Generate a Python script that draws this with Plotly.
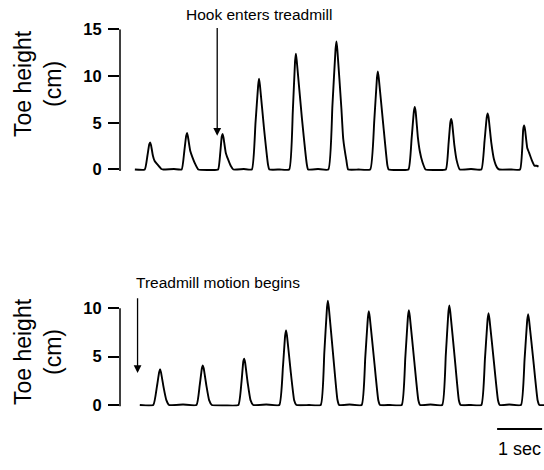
import plotly.graph_objects as go

# ---------------- data (time in seconds, toe height in cm) ----------------
top_time = [0.33,
            0.55, 0.61, 0.65, 0.67, 0.69, 0.73, 0.77, 0.84, 0.92, 0.96, 1.20,
            1.37, 1.43, 1.47, 1.49, 1.51, 1.56, 1.61, 1.67, 1.74, 2.00,
            2.18, 2.23, 2.26, 2.28, 2.30, 2.35, 2.40, 2.46, 2.52, 2.75,
            2.93, 3.01, 3.07, 3.09, 3.11, 3.20, 3.29, 3.32, 3.55,
            3.76, 3.84, 3.89, 3.91, 3.93, 4.04, 4.15, 4.18, 4.40,
            4.63, 4.72, 4.79, 4.81, 4.83, 4.92, 4.96, 5.03, 5.07, 5.30,
            5.56, 5.65, 5.71, 5.73, 5.75, 5.85, 5.94, 5.97, 6.20,
            6.41, 6.48, 6.53, 6.55, 6.57, 6.62, 6.66, 6.72, 6.79, 7.00,
            7.24, 7.30, 7.34, 7.36, 7.38, 7.43, 7.48, 7.55, 7.80,
            8.03, 8.10, 8.15, 8.17, 8.19, 8.25, 8.31, 8.38, 8.43, 8.70,
            8.89, 8.94, 8.96, 8.98, 9.00, 9.05, 9.09, 9.15, 9.21, 9.26, 9.30]
top_height = [0.0,
              0.0, 1.5, 2.7, 2.9, 2.6, 1.5, 0.9, 0.5, 0.05, 0.0, 0.05,
              0.0, 2.0, 3.6, 3.9, 3.5, 2.0, 1.3, 0.6, 0.0, -0.05,
              0.0, 1.9, 3.5, 3.8, 3.4, 1.8, 1.1, 0.4, 0.0, 0.05,
              0.0, 4.9, 9.0, 9.7, 9.0, 4.4, 0.5, 0.0, 0.0,
              0.0, 6.2, 11.6, 12.4, 11.5, 5.6, 0.6, 0.0, 0.05,
              0.0, 6.8, 12.9, 13.7, 12.8, 6.5, 3.3, 1.0, 0.0, 0.0,
              0.0, 5.2, 9.8, 10.5, 9.8, 4.8, 0.5, 0.0, -0.05,
              0.0, 3.3, 6.2, 6.7, 6.2, 3.4, 2.0, 0.8, 0.0, -0.05,
              0.0, 2.7, 5.0, 5.4, 5.0, 2.6, 1.0, 0.0, 0.05,
              0.0, 3.0, 5.6, 6.0, 5.6, 2.9, 1.1, 0.2, 0.0, 0.0,
              0.0, 2.4, 4.3, 4.7, 4.3, 2.3, 1.8, 1.0, 0.4, 0.4, 0.3]

bottom_time = [0.44,
               0.74, 0.82, 0.87, 0.89, 0.91, 0.97, 1.03, 1.09, 1.40,
               1.70, 1.77, 1.82, 1.84, 1.86, 1.92, 1.98, 2.04, 2.35,
               2.63, 2.70, 2.74, 2.76, 2.78, 2.84, 2.90, 2.96, 3.25,
               3.54, 3.62, 3.67, 3.69, 3.71, 3.79, 3.87, 3.92, 4.20,
               4.46, 4.54, 4.60, 4.62, 4.64, 4.74, 4.83, 4.87, 5.10,
               5.37, 5.45, 5.51, 5.53, 5.55, 5.65, 5.74, 5.78, 6.00,
               6.26, 6.34, 6.40, 6.42, 6.44, 6.54, 6.63, 6.67, 6.90,
               7.16, 7.24, 7.30, 7.32, 7.34, 7.44, 7.53, 7.57, 7.80,
               8.03, 8.11, 8.17, 8.19, 8.21, 8.31, 8.40, 8.44, 8.65,
               8.91, 8.99, 9.05, 9.07, 9.09, 9.19, 9.28, 9.32, 9.45]
bottom_height = [0.0,
                 0.0, 1.9, 3.4, 3.7, 3.4, 1.8, 0.5, 0.0, 0.05,
                 0.0, 2.0, 3.8, 4.1, 3.8, 2.0, 0.5, 0.0, -0.05,
                 0.0, 2.4, 4.5, 4.8, 4.4, 2.2, 0.5, 0.0, 0.05,
                 0.0, 3.9, 7.2, 7.7, 7.2, 3.6, 0.5, 0.0, 0.0,
                 0.0, 5.4, 10.1, 10.8, 10.1, 5.0, 0.6, 0.0, 0.05,
                 0.0, 4.9, 9.1, 9.7, 9.1, 4.5, 0.5, 0.0, 0.0,
                 0.0, 4.9, 9.2, 9.8, 9.2, 4.5, 0.5, 0.0, 0.05,
                 0.0, 5.2, 9.7, 10.3, 9.6, 4.8, 0.5, 0.0, 0.0,
                 0.0, 4.8, 8.9, 9.5, 8.9, 4.4, 0.5, 0.0, 0.05,
                 0.0, 4.7, 8.8, 9.4, 8.8, 4.4, 0.5, 0.0, 0.0]

top_ticks = [0, 5, 10, 15]
bottom_ticks = [0, 5, 10]
axis_title = "Toe height<br>(cm)"
top_event = "Hook enters treadmill"
bottom_event = "Treadmill motion begins"
hook_time, hook_tip, hook_tail = 2.16, 3.6, 15.3
motion_time, motion_tip, motion_tail = 0.39, 3.3, 11.2
scale_start, scale_len = 8.38, 1.0
scale_label = "1 sec"

FONT = "Liberation Sans, Arial, Helvetica, sans-serif"
X_DOMAIN = [0.2206, 1]

fig = go.Figure()
fig.add_trace(go.Scatter(x=top_time, y=top_height, mode="lines",
                         line=dict(color="black", width=1.9, shape="spline", smoothing=0.4),
                         xaxis="x", yaxis="y", hoverinfo="skip", showlegend=False))
fig.add_trace(go.Scatter(x=bottom_time, y=bottom_height, mode="lines",
                         line=dict(color="black", width=1.9, shape="spline", smoothing=0.4),
                         xaxis="x2", yaxis="y2", hoverinfo="skip", showlegend=False))

xrange = [0, 9.422]
yax_common = dict(ticks="outside", ticklen=11, tickwidth=1.5, tickcolor="black",
                  showline=False, showgrid=False, zeroline=False, automargin=False,
                  ticklabelstandoff=3,
                  tickfont=dict(family=FONT, size=16.5, color="black", weight="bold"))

fig.update_layout(
    width=544, height=470,
    margin=dict(l=0, r=0, t=0, b=0),
    paper_bgcolor="white", plot_bgcolor="white",
    showlegend=False,
    xaxis=dict(domain=X_DOMAIN, range=xrange, visible=False, anchor="y"),
    xaxis2=dict(domain=X_DOMAIN, range=xrange, visible=False, anchor="y2"),
    yaxis=dict(domain=[0.6364, 0.9377], range=[-0.15, 15], tickvals=top_ticks,
               anchor="x", **yax_common),
    yaxis2=dict(domain=[0.1352, 0.3687], range=[-0.15, 11.2], tickvals=bottom_ticks,
                anchor="x2", **yax_common),
)

# vertical axis lines spanning only the ticked range
for yref, ticks in (("y", top_ticks), ("y2", bottom_ticks)):
    fig.add_shape(type="line", xref="paper", yref=yref,
                  x0=X_DOMAIN[0], x1=X_DOMAIN[0], y0=-0.15, y1=ticks[-1],
                  line=dict(color="black", width=1.5))

annotations = [
    dict(text=axis_title, xref="paper", yref="paper", x=0.0699, y=0.8213,
         xanchor="center", yanchor="middle", textangle=-90, showarrow=False,
         font=dict(family=FONT, size=23, color="black")),
    dict(text=axis_title, xref="paper", yref="paper", x=0.0699, y=0.251,
         xanchor="center", yanchor="middle", textangle=-90, showarrow=False,
         font=dict(family=FONT, size=23, color="black")),
    dict(text=top_event, xref="x", yref="paper", x=3.09, y=(470 - 15) / 470,
         xanchor="center", yanchor="middle", showarrow=False,
         font=dict(family=FONT, size=15.5, color="black")),
    dict(text=bottom_event, xref="x2", yref="paper", x=2.18, y=(470 - 283) / 470,
         xanchor="center", yanchor="middle", showarrow=False,
         font=dict(family=FONT, size=15.5, color="black")),
    dict(text="", xref="x", yref="y", x=hook_time, y=hook_tip,
         axref="x", ayref="y", ax=hook_time, ay=hook_tail,
         showarrow=True, arrowhead=2, arrowsize=1.2, arrowwidth=1.3, arrowcolor="black"),
    dict(text="", xref="x2", yref="y2", x=motion_time, y=motion_tip,
         axref="x2", ayref="y2", ax=motion_time, ay=motion_tail,
         showarrow=True, arrowhead=2, arrowsize=1.2, arrowwidth=1.3, arrowcolor="black"),
    dict(text=scale_label, xref="x2", yref="paper", x=scale_start + scale_len / 2,
         y=(470 - 449) / 470, xanchor="center", yanchor="middle", showarrow=False,
         font=dict(family=FONT, size=18, color="black")),
]
fig.update_layout(annotations=annotations)

fig.add_shape(type="line", xref="x2", yref="paper",
              x0=scale_start, x1=scale_start + scale_len,
              y0=(470 - 429) / 470, y1=(470 - 429) / 470,
              line=dict(color="black", width=2))

fig.write_html("out.html", config={"displayModeBar": False},
               post_script="document.body.style.margin='0';")
